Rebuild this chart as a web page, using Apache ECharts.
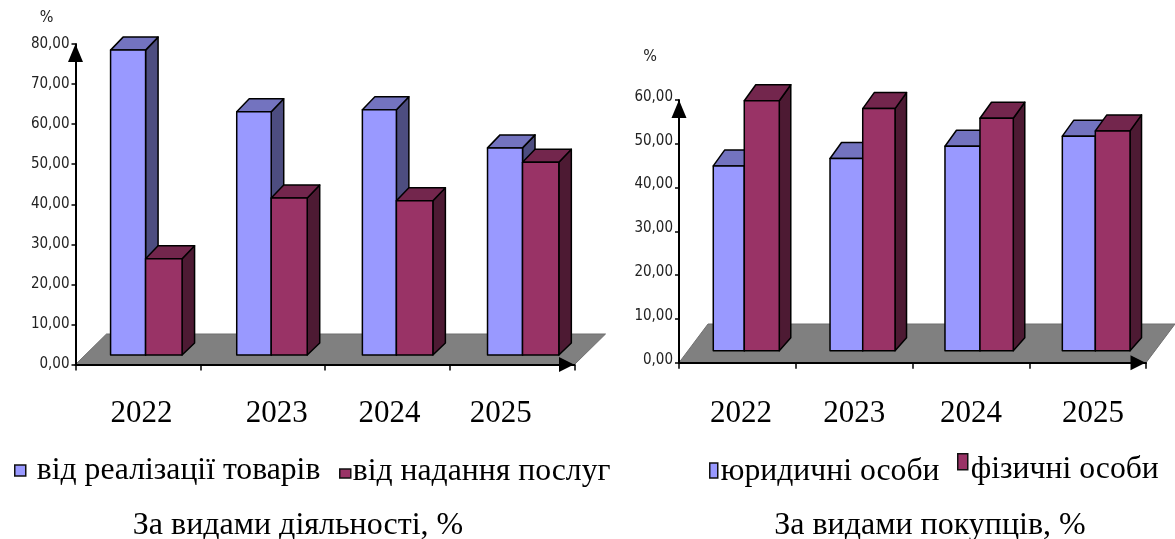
<!DOCTYPE html>
<html>
<head>
<meta charset="utf-8">
<style>html,body{margin:0;padding:0;background:#fff}#chart{width:1175px;height:539px}</style>
<script src="https://cdn.jsdelivr.net/npm/echarts@6/dist/echarts.min.js"></script>
</head>
<body>
<div id="chart"></div>
<script>
// Revenue structure, 2022-2025: by activity (left) and by buyer type (right)
const years = ['2022', '2023', '2024', '2025'];

const goodsName = 'від реалізації товарів';
const servicesName = 'від надання послуг';
const goodsShare = [76.1, 60.7, 61.2, 51.7];
const servicesShare = [24.0, 39.2, 38.5, 48.1];

const legalName = 'юридичні особи';
const personsName = 'фізичні особи';
const legalShare = [42.2, 43.9, 46.7, 49.0];
const personsShare = [57.1, 55.3, 53.1, 50.2];

const SERIF = '"Liberation Serif", serif';
const NARROW = '"DejaVu Sans Condensed", "Liberation Sans", sans-serif';

const BLUE = { front: '#9999ff', top: '#7373bf', side: '#4d4d80' };
const MAROON = { front: '#993366', top: '#73264d', side: '#4d1a33' };

// Oblique projection of each panel; edges are [left, split, right] from the band centre
const leftPanel = {
  rect: { left: 75.5, top: 44, width: 499, height: 320.5 },
  lift: 9.5, dx: 12.5, dyTop: 13, dyBase: 12,
  floor: { dx: 31, dy: 30.5 },
  edges: [[-27.3, 7.7, 44.2], [-25.9, 8.6, 44.6], [-25, 9, 45.5], [-24.6, 10.4, 46.7]],
  labelShift: [3.5, 14, 2, -11.5],
  labelMargin: 34
};
const rightPanel = {
  rect: { left: 679, top: 100, width: 467, height: 262.7 },
  lift: 12, dx: 11.5, dyTop: 16, dyBase: 13,
  floor: { dx: 29, dy: 38.7 },
  edges: [[-24.1, 6.9, 41.9], [-24.1, 8.6, 40.9], [-25.9, 9.1, 42.4], [-25.3, 7.7, 42.4]],
  labelShift: [3.6, 0, 0, 5.4],
  labelMargin: 36
};

const edgeLine = { stroke: '#000', lineWidth: 1.5, lineJoin: 'round' };

function face(points, fill) {
  return { type: 'polygon', shape: { points }, style: Object.assign({ fill }, edgeLine) };
}

// One box per data row; slot 0 stands left of the split, slot 1 right of it
function boxRenderer(panel, slot, colors) {
  return function (params, api) {
    const i = api.value(0);
    const base = api.coord([i, 0]);
    const tip = api.coord([i, api.value(1)]);
    const e = panel.edges[i];
    const x0 = base[0] + e[slot];
    const x1 = base[0] + e[slot + 1];
    const yb = base[1] - panel.lift;
    const yt = tip[1] - panel.lift;
    const { dx, dyTop, dyBase } = panel;
    return {
      type: 'group',
      children: [
        face([[x1, yt], [x1 + dx, yt - dyTop], [x1 + dx, yb - dyBase], [x1, yb]], colors.side),
        face([[x0, yt], [x0 + dx, yt - dyTop], [x1 + dx, yt - dyTop], [x1, yt]], colors.top),
        face([[x0, yt], [x1, yt], [x1, yb], [x0, yb]], colors.front)
      ]
    };
  };
}

// Grey floor plane spanning the category axis
function floorRenderer(panel) {
  return function (params) {
    const c = params.coordSys;
    const y = c.y + c.height;
    const { dx, dy } = panel.floor;
    return {
      type: 'polygon',
      shape: { points: [[c.x, y], [c.x + c.width, y], [c.x + c.width + dx, y - dy], [c.x + dx, y - dy]] },
      style: { fill: '#808080', stroke: '#6f6f6f', lineWidth: 1 }
    };
  };
}

function rows(values) {
  return values.map((v, i) => [i, v]);
}

function xAxisFor(panel, gridIndex) {
  const rich = {};
  panel.labelShift.forEach((s, i) => {
    rich['y' + i] = {
      fontFamily: SERIF, fontSize: 31, color: '#000',
      padding: [0, s < 0 ? -2 * s : 0, 0, s > 0 ? 2 * s : 0]
    };
  });
  return {
    type: 'category', gridIndex, data: years, z: 5,
    axisLine: {
      lineStyle: { color: '#000', width: 2 },
      symbol: ['none', 'triangle'], symbolSize: [15, 15], symbolOffset: [0, -8]
    },
    axisTick: { show: true, length: 6, lineStyle: { color: '#000', width: 1.5 } },
    axisLabel: {
      margin: panel.labelMargin, interval: 0,
      formatter: (v, i) => `{y${i}|${v}}`,
      rich
    }
  };
}

function yAxisFor(gridIndex, max, nameGap, labelRaise) {
  return {
    type: 'value', gridIndex, min: 0, max, interval: 10, z: 5,
    name: '%', nameLocation: 'end', nameGap,
    nameTextStyle: { fontFamily: NARROW, fontSize: 16, color: '#222', align: 'right', padding: [0, 22, 0, 0] },
    splitLine: { show: false },
    axisLine: {
      show: true, lineStyle: { color: '#000', width: 2 },
      symbol: ['none', 'triangle'], symbolSize: [15, 18], symbolOffset: [0, -9]
    },
    axisTick: { show: true, length: 4, lineStyle: { color: '#000', width: 1.5 } },
    axisLabel: {
      margin: 6,
      formatter: v => `{v|${v.toFixed(2).replace('.', ',')}}`,
      rich: { v: { fontFamily: NARROW, fontSize: 15, color: '#222', padding: [0, 0, 2 * labelRaise, 0] } }
    }
  };
}

function customSeries(name, values, panel, slot, colors, index) {
  return {
    type: 'custom', name, xAxisIndex: index, yAxisIndex: index, z: 2,
    clip: false, itemStyle: { color: colors.front },
    renderItem: boxRenderer(panel, slot, colors),
    encode: { x: 0, y: 1 },
    data: rows(values)
  };
}

function floorSeries(panel, index) {
  return {
    type: 'custom', xAxisIndex: index, yAxisIndex: index, z: 1, clip: false, silent: true,
    renderItem: floorRenderer(panel), encode: { x: 0, y: 1 }, data: [[0, 0]]
  };
}

// textDx and textDy nudge the entry's text relative to its colour swatch
function legendItem(name, left, top, w, h, textDx, textDy) {
  return {
    data: [name], left, top, itemWidth: w, itemHeight: h, itemGap: 0, padding: 0,
    icon: 'rect', selectedMode: false,
    itemStyle: { borderColor: '#111', borderWidth: 1.5 },
    formatter: '{t|{name}}',
    textStyle: {
      padding: [0, 0, 0, textDx],
      rich: {
        t: {
          fontFamily: SERIF, fontSize: 31.7, color: '#000',
          padding: [textDy > 0 ? 2 * textDy : 0, 0, textDy < 0 ? -2 * textDy : 0, 0]
        }
      }
    }
  };
}

function caption(text, centre) {
  return {
    text, left: centre, top: 510, textAlign: 'center', padding: 0,
    textStyle: { fontFamily: SERIF, fontSize: 32, fontWeight: 'normal', color: '#000' }
  };
}

const chart = echarts.init(document.getElementById('chart'), null, { renderer: 'canvas' });
chart.setOption({
  animation: false,
  backgroundColor: '#fff',
  title: [caption('За видами діяльності, %', 298), caption('За видами покупців, %', 930)],
  legend: [
    legendItem(goodsName, 14, 455, 11, 11, 6, 0.5),
    legendItem(servicesName, 339, 456, 11, 9, -3, -1.5),
    legendItem(legalName, 709, 456, 8, 15, -2, 1.5),
    legendItem(personsName, 957, 453, 10, 16, -2, 8)
  ],
  grid: [leftPanel.rect, rightPanel.rect],
  xAxis: [xAxisFor(leftPanel, 0), xAxisFor(rightPanel, 1)],
  yAxis: [yAxisFor(0, 80, 18, 0), yAxisFor(1, 60, 35, 3)],
  series: [
    floorSeries(leftPanel, 0),
    customSeries(goodsName, goodsShare, leftPanel, 0, BLUE, 0),
    customSeries(servicesName, servicesShare, leftPanel, 1, MAROON, 0),
    floorSeries(rightPanel, 1),
    customSeries(legalName, legalShare, rightPanel, 0, BLUE, 1),
    customSeries(personsName, personsShare, rightPanel, 1, MAROON, 1)
  ]
});
</script>
</body>
</html>
